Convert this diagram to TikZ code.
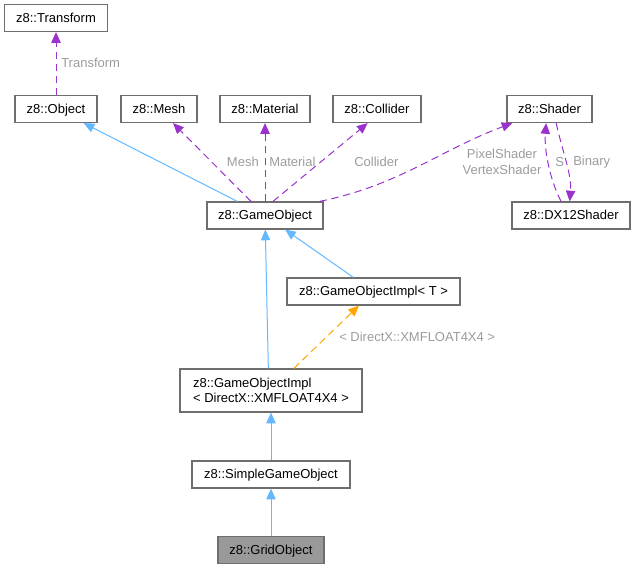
\documentclass[tikz,border=0pt]{standalone}
\usepackage{fontspec}
\setmainfont{Liberation Sans}
\usepackage{tikz}
\usetikzlibrary{arrows.meta,positioning}
\definecolor{inhblue}{HTML}{63B8FF}
\definecolor{usepurple}{HTML}{9A32CD}
\definecolor{tmplorange}{HTML}{FFA500}
\definecolor{edgegray}{HTML}{9C9C9C}
\definecolor{boxgray}{HTML}{6E6E6E}
\tikzset{cls/.style={draw=boxgray,line width=0.9pt,fill=white,inner sep=0pt,minimum height=20.25pt,align=center,text height=7.5pt,text depth=1pt},
  inh/.style={-{Triangle[length=8pt,width=7pt,fill=inhblue]},draw=inhblue,line width=0.75pt},
  use/.style={-{Triangle[length=8pt,width=7pt,fill=usepurple]},draw=usepurple,line width=0.75pt,dash pattern=on 5.5pt off 3.5pt},
  tmpl/.style={-{Triangle[length=8pt,width=7pt,fill=tmplorange]},draw=tmplorange,line width=0.75pt,dash pattern=on 5.5pt off 3.5pt}}

\begin{document}
\begin{tikzpicture}[x=0.75pt,y=-0.75pt,font=\fontsize{9.75}{11.5}\selectfont,
  lbl/.style={text=edgegray,inner sep=0pt}]
\useasboundingbox (0,0) rectangle (635,569);
\node[cls,minimum width=77.25pt] (tf) at (56,18){z8::Transform};
\node[cls,minimum width=61.5pt] (obj) at (56,109){z8::Object};
\node[cls,minimum width=57pt] (mesh) at (159,109){z8::Mesh};
\node[cls,minimum width=67.5pt] (mat) at (265,109){z8::Material};
\node[cls,minimum width=66pt] (col) at (377,109){z8::Collider};
\node[cls,minimum width=63.75pt] (sh) at (549.5,109){z8::Shader};
\node[cls,minimum width=88.5pt] (dx) at (571,215.5){z8::DX12Shader};
\node[cls,minimum width=87pt] (go) at (265,215.5){z8::GameObject};
\node[cls,minimum width=129.75pt] (goit) at (373.5,291.5){z8::GameObjectImpl< T >};
\node[cls,minimum width=136.5pt,minimum height=32.25pt,align=left,text height=,text depth=] (goidx) at (271,390.5){z8::GameObjectImpl\\< DirectX::XMFLOAT4X4 >};
\node[cls,minimum width=118.5pt] (sgo) at (271,474.5){z8::SimpleGameObject};
\node[cls,minimum width=79.5pt,fill=gray!80] (grid) at (271,550){z8::GridObject};
% usage
\draw[use] (obj) -- (tf);
\draw[use] (go) -- (mesh);
\draw[use] (go) -- (mat);
\draw[use] ([xshift=6pt]go.north) -- ([xshift=-7pt]col.south);
\draw[use] ([xshift=-3pt]go.north east) .. controls (400,185) and (440,150) .. ([xshift=4.5pt]sh.south west);
\draw[use] ([xshift=-7.5pt]dx.north) .. controls (550,180) and (544,150) .. ([xshift=-2.5pt]sh.south);
\draw[use] ([xshift=5pt]sh.south) .. controls (562,150) and (572,175) .. ([xshift=-1pt]dx.north);
% inheritance
\draw[inh] (go) -- (obj);
\draw[inh] (goit) -- (go);
\draw[inh] ([xshift=-2pt]goidx.north) -- (go);
\draw[inh] (sgo) -- (goidx);
\draw[inh] (grid) -- (sgo);
\draw[tmpl] (goidx) -- (goit);
% labels
\node[lbl,anchor=west] (ltf) at (61,63){Transform};
\node[lbl,anchor=east] (lmesh) at (259,162){Mesh};
\node[lbl,anchor=west] (lmat) at (269,162){Material};
\node[lbl,anchor=west] (lcol) at (354,162){Collider};
\node[lbl,align=center] (lsh) at (502,162){PixelShader\\VertexShader};
\node[lbl,anchor=west] (ls) at (555,162){S};
\node[lbl,anchor=west] (lbin) at (573,162){Binary};
\node[lbl,anchor=west] (ldx) at (339,337){< DirectX::XMFLOAT4X4 >};
\end{tikzpicture}
\end{document}
